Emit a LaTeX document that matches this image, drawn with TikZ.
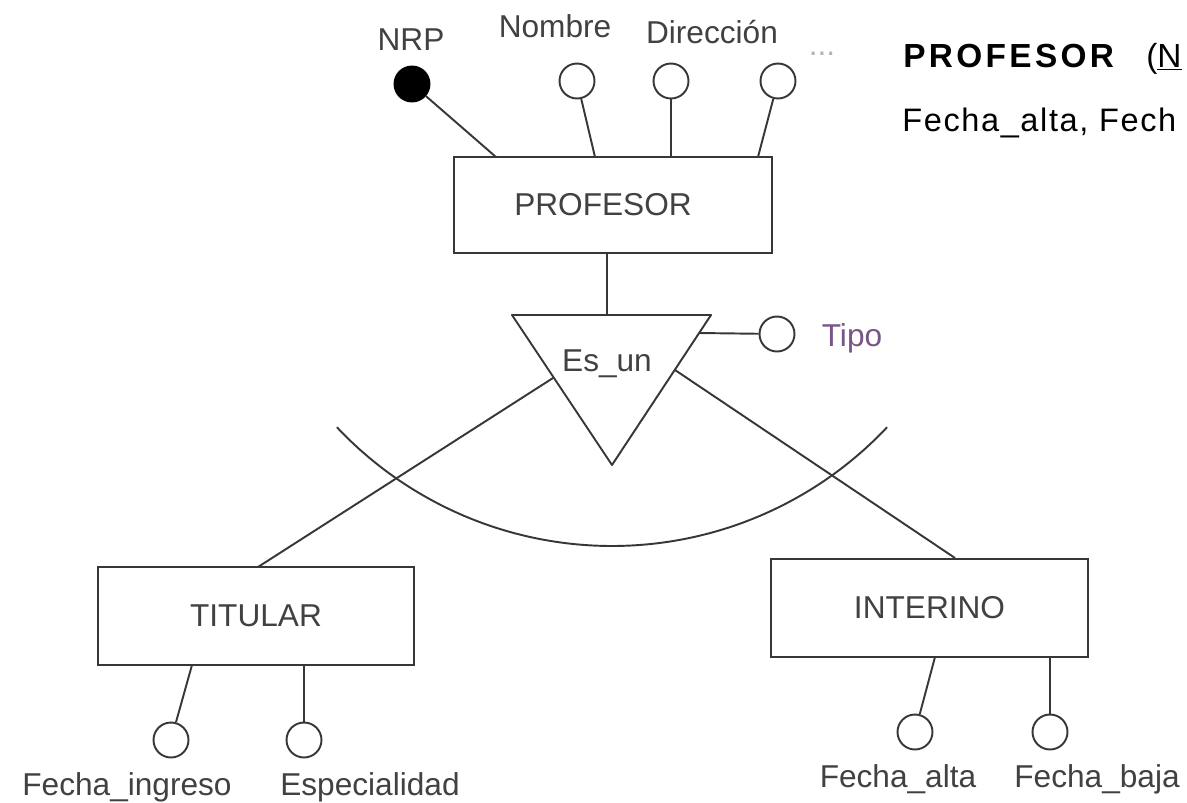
\documentclass[tikz,border=0pt]{standalone}
\usepackage{fontspec}
\setmainfont{Liberation Sans}
\definecolor{ink}{RGB}{55,55,55}
\definecolor{txt}{RGB}{65,65,65}
\definecolor{tipocol}{RGB}{120,85,135}

\begin{document}
\begin{tikzpicture}[x=0.02cm, y=-0.02cm,
  lbl/.style={font=\fontsize{18}{20}\selectfont, text=txt, inner sep=0pt, anchor=base},
  attr/.style={circle, draw=ink, line width=1.1pt, minimum size=0.7cm, inner sep=0pt, fill=white},
  keyattr/.style={attr, fill=black, draw=black},
  entity/.style={rectangle, draw=ink, line width=1.1pt, font=\fontsize{18}{20}\selectfont, text=txt},
  link/.style={draw=ink, line width=1.1pt},
  reltext/.style={anchor=base west, inner sep=0pt, text=black, font=\fontsize{19}{20}\selectfont\addfontfeature{LetterSpace=10}}
]
\useasboundingbox (0,0) rectangle (1187,802);

% entities
\node[entity, minimum width=6.36cm, minimum height=1.92cm] (prof) at (613,205) {\hspace*{-0.4cm}PROFESOR};
\node[entity, minimum width=6.32cm, minimum height=1.96cm] (tit) at (256,616) {TITULAR};
\node[entity, minimum width=6.34cm, minimum height=1.96cm] (inte) at (929.5,608) {INTERINO};

% specialisation triangle
\coordinate (t1) at (512,315);
\coordinate (t2) at (711,315);
\coordinate (t3) at (612,465);
\draw[link, line join=round] (t1) -- (t2) -- (t3) -- cycle;
\node[lbl] (esun) at (607,371) {Es\_un};

% attributes
\node[keyattr] (nrp) at (412,84) {};
\node[attr] (nom) at (577,81) {};
\node[attr] (dir) at (671,81) {};
\node[attr] (etc) at (778,81) {};
\node[attr] (tipo) at (777,334) {};
\node[attr] (fing) at (171,740) {};
\node[attr] (esp) at (304,740) {};
\node[attr] (falt) at (915,732) {};
\node[attr] (fbaj) at (1050,732) {};

% attribute names
\node[lbl] (nrpL) at (411,50) {NRP};
\node[lbl] (nomL) at (555,37) {Nombre};
\node[lbl] (dirL) at (712,43) {Dirección};
\node[lbl, text=black!30] (dots) at (822,55) {...};
\node[lbl, text=tipocol] (tipoL) at (852,346) {Tipo};
\node[lbl] (fingL) at (127,795) {Fecha\_ingreso};
\node[lbl] (espL) at (370,795) {Especialidad};
\node[lbl] (faltL) at (898,787) {Fecha\_alta};
\node[lbl] (fbajL) at (1097,787) {Fecha\_baja};

% relational schema
\node[reltext, font=\fontsize{19}{20}\selectfont\bfseries\addfontfeature{LetterSpace=10}] (rel) at (903,67) {PROFESOR};
\node[reltext] (relkey) at (1146,67) {(\underline{N}};
\node[reltext, font=\fontsize{18.5}{20}\selectfont\addfontfeature{LetterSpace=5}] (rel2) at (902,131) {Fecha\_alta, Fech};

% attachment points
\coordinate (pa) at (496,157);
\coordinate (pb) at (595,157);
\coordinate (pc) at (671,157);
\coordinate (pd) at (758,157);
\coordinate (ps) at (607,253);
\coordinate (tt) at (607,315);
\coordinate (tr) at (699,333);
\coordinate (bl) at (553,378);
\coordinate (tl) at (258,567);
\coordinate (br) at (675,370);
\coordinate (ir) at (955,558);
\coordinate (ta) at (192,665);
\coordinate (tb) at (304,665);
\coordinate (ia) at (935,657);
\coordinate (ib) at (1050,657);

% connectors
\draw[link] (nrp) -- (pa);
\draw[link] (nom) -- (pb);
\draw[link] (dir) -- (pc);
\draw[link] (etc) -- (pd);
\draw[link] (ps) -- (tt);
\draw[link] (tr) -- (tipo);
\draw[link] (bl) -- (tl);
\draw[link] (br) -- (ir);
\draw[link] (ta) -- (fing);
\draw[link] (tb) -- (esp);
\draw[link] (ia) -- (falt);
\draw[link] (ib) -- (fbaj);

% disjointness arc
\draw[link] plot[domain=43.3:136.7, samples=60, smooth] ({612+378*cos(\x)},{168+378*sin(\x)});
\end{tikzpicture}
\end{document}
